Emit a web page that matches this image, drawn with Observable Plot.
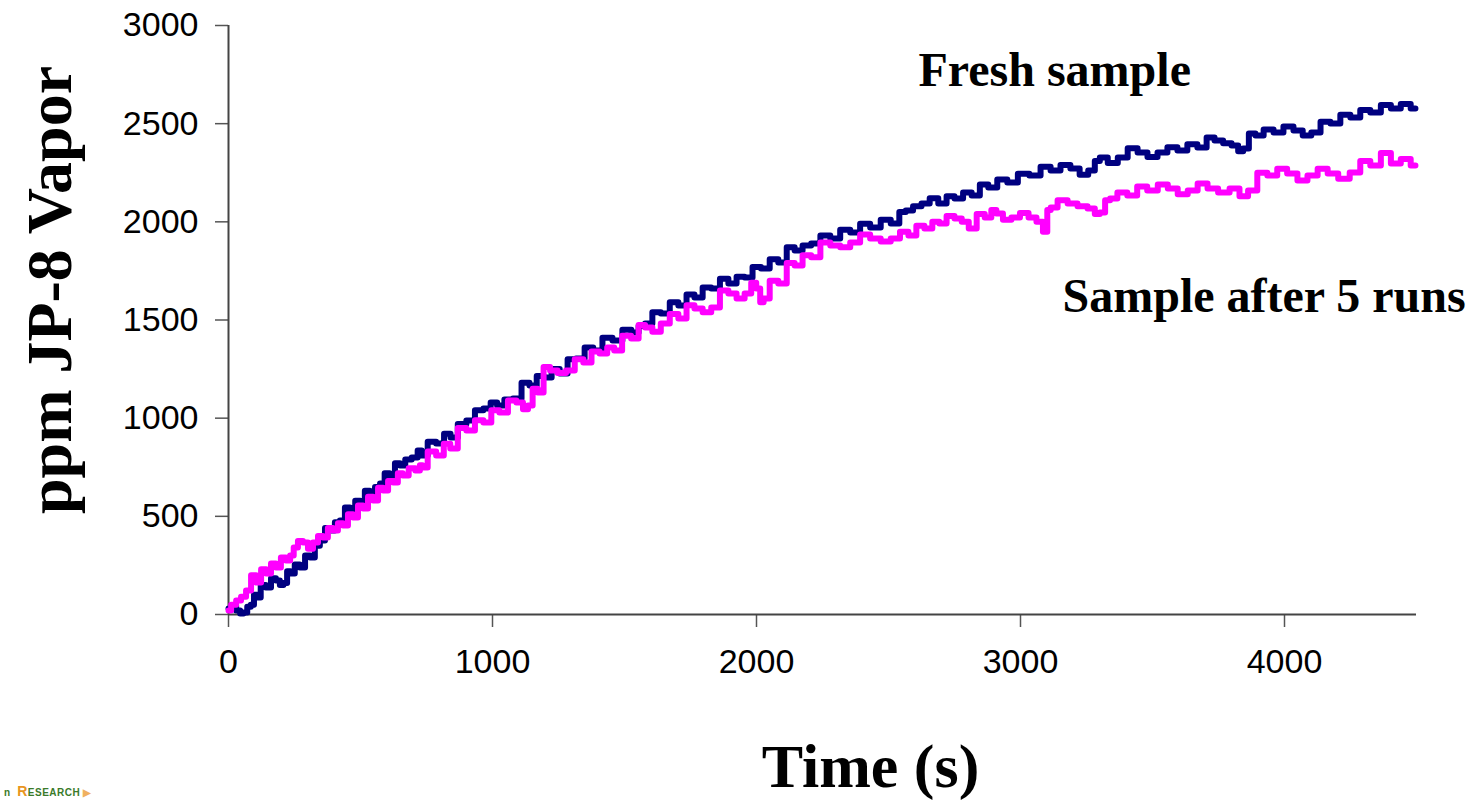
<!DOCTYPE html>
<html>
<head>
<meta charset="utf-8">
<script src="https://cdn.jsdelivr.net/npm/d3@7"></script>
<script src="https://cdn.jsdelivr.net/npm/@observablehq/plot@0.6"></script>
<style>
  html, body { margin: 0; padding: 0; background: #ffffff; overflow: hidden; }
  #chart { position: relative; width: 1475px; height: 800px; }
</style>
</head>
<body>
<div id="chart"></div>
<script>
// Time (s) and ppm readings for the fresh sample (navy)
const freshTime = [0,20,38,50,64,78,91,102,114,130,152,170,189,200,216,228,242,260,280,300,318,336,356,375,394,412,432,450,470,490,508,525,545,565,583,600,621,640,659,680,708,725,739,770,803,830,852,885,917,950,981,1005,1030,1060,1095,1125,1155,1180,1208,1240,1269,1300,1333,1365,1398,1435,1474,1510,1542,1565,1591,1620,1655,1688,1720,1750,1780,1812,1845,1878,1909,1940,1970,2000,2034,2066,2099,2130,2159,2190,2224,2260,2299,2335,2375,2410,2451,2490,2527,2555,2576,2610,2640,2672,2705,2735,2765,2800,2830,2862,2894,2930,2970,3010,3057,3095,3133,3170,3208,3240,3273,3290,3311,3350,3387,3425,3462,3500,3538,3575,3614,3650,3690,3720,3750,3785,3814,3835,3852,3878,3902,3940,3977,4015,4053,4085,4118,4155,4193,4230,4269,4305,4345,4385,4421,4460,4496];
const freshPpm = [30,45,20,5,10,40,50,100,87,150,138,185,173,150,160,220,209,255,240,300,290,350,377,440,428,470,479,545,530,580,565,630,616,650,667,720,708,770,759,790,800,835,810,880,871,920,902,970,988,1040,1049,1080,1065,1095,1100,1180,1166,1215,1207,1250,1228,1300,1304,1360,1345,1410,1396,1450,1436,1470,1482,1540,1533,1590,1574,1630,1615,1665,1660,1710,1686,1720,1717,1770,1762,1810,1793,1870,1854,1880,1890,1930,1915,1960,1946,1990,1971,2010,1991,2050,2058,2080,2093,2120,2093,2130,2119,2150,2134,2190,2175,2215,2200,2245,2236,2280,2261,2290,2272,2240,2261,2310,2328,2300,2328,2375,2353,2330,2353,2380,2363,2395,2379,2430,2414,2400,2389,2360,2373,2450,2440,2470,2455,2485,2465,2440,2455,2510,2501,2545,2531,2570,2557,2595,2577,2600,2577];

// Time (s) and ppm readings for the sample after 5 runs (magenta)
const agedTime = [0,20,38,57,76,95,114,133,152,170,189,208,227,240,254,272,292,310,330,348,367,386,405,424,443,462,481,500,519,538,557,576,595,614,633,650,670,695,720,730,739,770,803,828,852,885,917,950,981,1010,1042,1075,1106,1125,1144,1160,1182,1205,1231,1262,1295,1328,1360,1390,1421,1448,1474,1508,1542,1565,1591,1620,1655,1688,1720,1750,1780,1812,1845,1878,1909,1940,1970,1990,2008,2020,2034,2066,2099,2130,2159,2190,2224,2260,2299,2335,2375,2410,2451,2490,2527,2560,2591,2620,2652,2680,2705,2735,2765,2790,2818,2850,2879,2900,2917,2950,2981,3015,3046,3075,3095,3108,3121,3160,3197,3235,3273,3290,3311,3330,3349,3385,3424,3460,3500,3540,3576,3615,3652,3690,3727,3770,3814,3845,3879,3915,3955,3990,4030,4068,4106,4145,4182,4225,4269,4305,4345,4385,4421,4460,4496];
const agedPpm = [20,50,71,90,122,200,163,230,209,260,240,290,275,300,341,375,367,335,367,400,392,440,428,465,453,510,494,555,540,600,581,645,632,680,672,720,708,745,733,760,749,830,810,870,846,950,937,990,978,1040,1029,1090,1080,1045,1065,1150,1131,1260,1243,1230,1243,1300,1284,1340,1329,1360,1345,1420,1406,1475,1462,1440,1482,1530,1508,1575,1559,1540,1564,1650,1635,1610,1635,1690,1660,1590,1610,1700,1686,1790,1778,1830,1820,1895,1879,1870,1895,1935,1915,1900,1915,1950,1930,1980,1966,2000,1991,2030,2017,2000,1966,2040,2022,2060,2042,2010,2022,2045,2022,2000,1950,2060,2073,2110,2093,2080,2068,2040,2048,2110,2119,2150,2134,2180,2160,2190,2170,2140,2160,2195,2170,2150,2170,2130,2160,2250,2236,2270,2246,2210,2236,2270,2246,2220,2251,2310,2287,2350,2297,2320,2287];

const xTicks = [0, 1000, 2000, 3000, 4000];
const yTicks = [0, 500, 1000, 1500, 2000, 2500, 3000];
const seriesNames = ["Fresh sample", "Sample after 5 runs"];
const seriesColors = ["#000080", "#FF00FF"];
const xTitle = "Time (s)";
const yTitle = "ppm JP-8 Vapor";

const fresh = freshTime.map((t, i) => ({t, v: freshPpm[i]}));
const aged = agedTime.map((t, i) => ({t, v: agedPpm[i]}));

const serif = "'Liberation Serif', 'Times New Roman', serif";

const chart = Plot.plot({
  width: 1475,
  height: 800,
  marginLeft: 228,
  marginRight: 59,
  marginTop: 25,
  marginBottom: 186,
  style: {fontFamily: "'Liberation Sans', Arial, sans-serif", fontSize: "34px", color: "#000", background: "#fff", overflow: "visible"},
  x: {domain: [0, 4500]},
  y: {domain: [0, 3000]},
  marks: [
    Plot.axisY({ticks: yTicks, tickFormat: d => String(d), tickSize: 13, tickPadding: 17, label: null, stroke: "#555", strokeWidth: 1.5, fill: "#000", fontSize: 34}),
    Plot.axisX({ticks: xTicks, tickFormat: d => String(d), tickSize: 13, tickPadding: 21, label: null, stroke: "#555", strokeWidth: 1.5, fill: "#000", fontSize: 34}),
    Plot.ruleX([0], {stroke: "#444", strokeWidth: 2}),
    Plot.ruleY([0], {stroke: "#444", strokeWidth: 2}),
    Plot.line(fresh, {x: "t", y: "v", stroke: seriesColors[0], strokeWidth: 6, curve: "step"}),
    Plot.line(aged, {x: "t", y: "v", stroke: seriesColors[1], strokeWidth: 6, curve: "step"}),
    Plot.text([seriesNames[0]], {frameAnchor: "top-left", dx: 690, dy: 45, text: d => d, textAnchor: "start", lineAnchor: "middle", fontFamily: serif, fontWeight: "bold", fontSize: 48, fill: "#000"}),
    Plot.text([seriesNames[1]], {frameAnchor: "top-left", dx: 834, dy: 271, text: d => d, textAnchor: "start", lineAnchor: "middle", fontFamily: serif, fontWeight: "bold", fontSize: 48, fill: "#000"}),
    Plot.text([xTitle], {frameAnchor: "bottom", dx: 48, dy: 153, text: d => d, textAnchor: "middle", lineAnchor: "middle", fontFamily: serif, fontWeight: "bold", fontSize: 62, fill: "#000"}),
    Plot.text([yTitle], {frameAnchor: "left", dx: -178, dy: -30, rotate: -90, text: d => d, textAnchor: "middle", lineAnchor: "middle", fontFamily: serif, fontWeight: "bold", fontSize: 64, fill: "#000"})
  ]
});
document.getElementById("chart").appendChild(chart);

// partial logo text at the bottom-left corner
const logo = document.createElement("div");
logo.innerHTML = "<span style='color:#3a7a2a'>n&nbsp;&nbsp;</span><span style='color:#e8951e;font-size:14px'>R</span><span style='color:#3a7a2a'>ESEARCH</span>&nbsp;<span style='color:#f0b060'>&#9654;</span>";
logo.style.cssText = "position:absolute;left:4px;top:784px;font:bold 10px 'Liberation Sans',Arial,sans-serif;letter-spacing:0.5px;white-space:nowrap;line-height:14px;";
document.getElementById("chart").appendChild(logo);
</script>
</body>
</html>
